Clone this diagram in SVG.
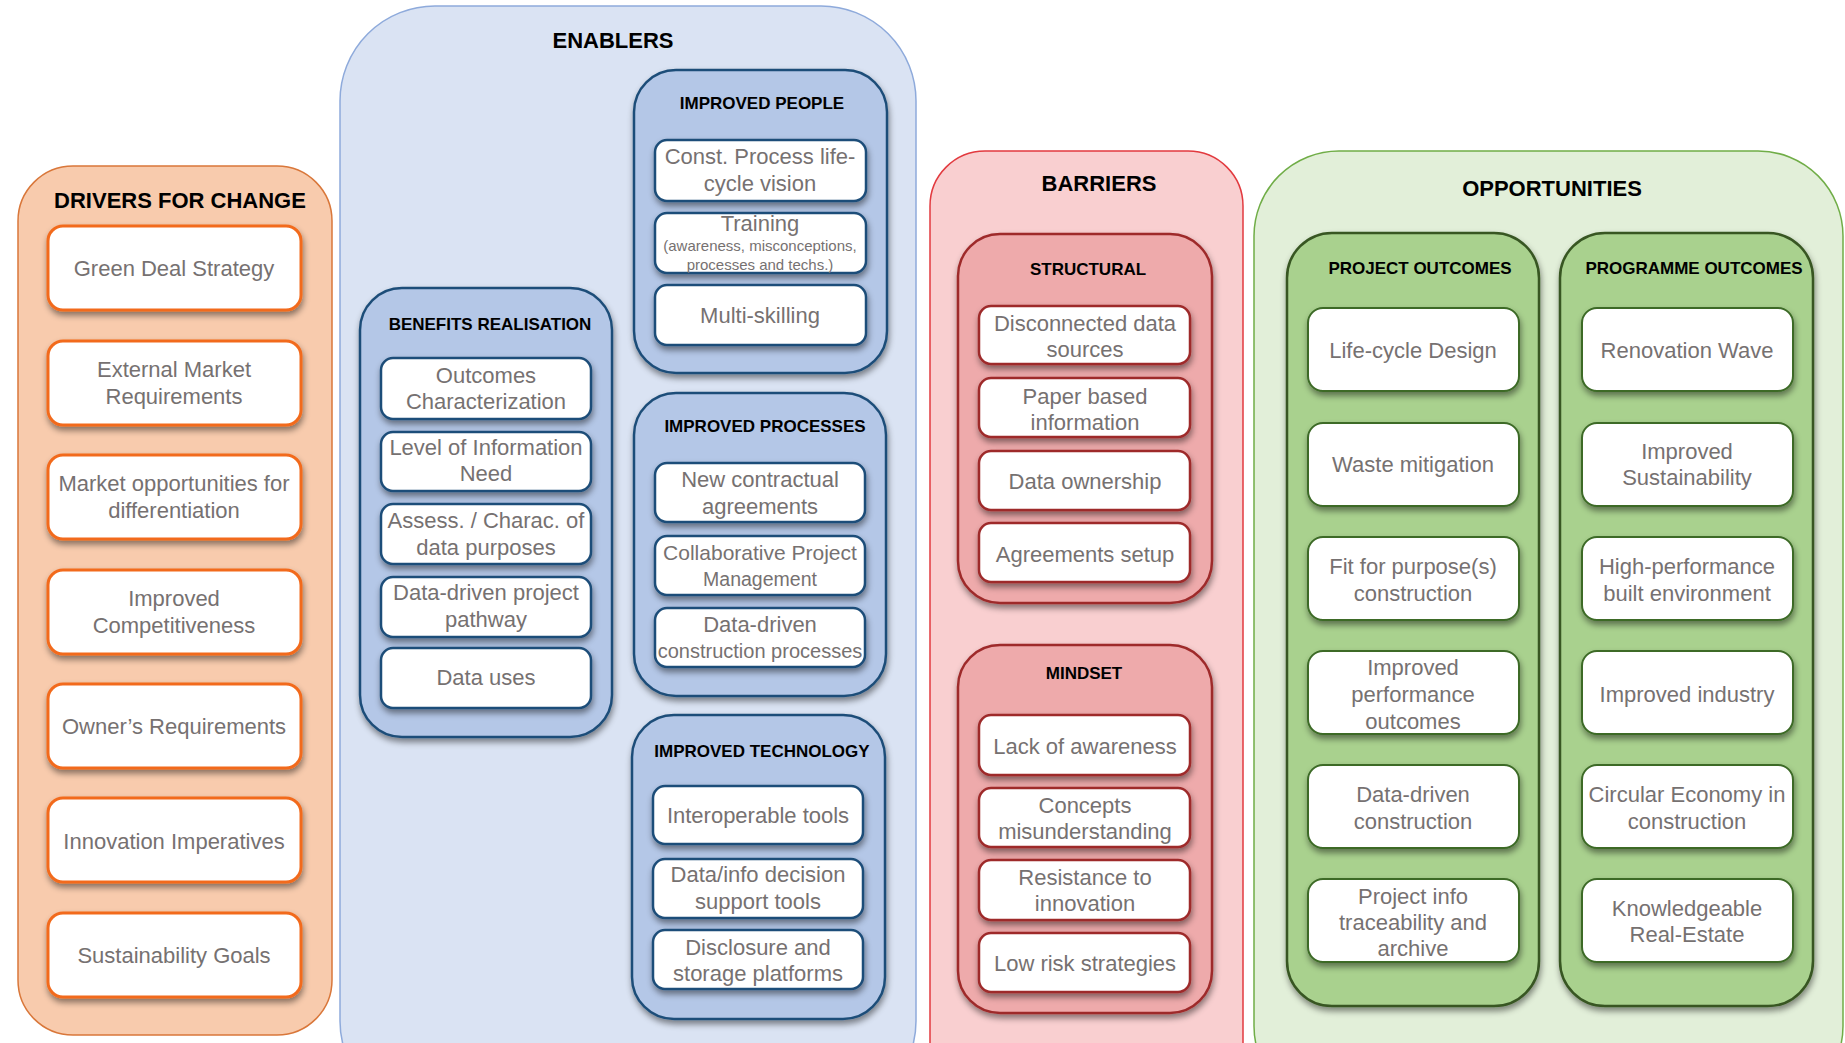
<svg xmlns="http://www.w3.org/2000/svg" width="1845" height="1043" viewBox="0 0 1845 1043">
<defs>
<filter id="sh" x="-10%" y="-10%" width="125%" height="135%">
<feDropShadow dx="1" dy="4" stdDeviation="3" flood-color="#000" flood-opacity="0.45"/>
</filter>
<style>
.t{font-family:"Liberation Sans",Arial,sans-serif;font-size:22px;fill:#767171;text-anchor:middle}
.s{font-size:20px}
.xs{font-size:15px}
.h{font-family:"Liberation Sans",Arial,sans-serif;font-weight:bold;fill:#000;text-anchor:middle}
.h1{font-size:22px}
.h2{font-size:17px}
.oD{fill:#f8cbad;stroke:#d9773a;stroke-width:1.5}
.oE{fill:#dae3f3;stroke:#8eaadb;stroke-width:1.5}
.oB{fill:#f9cfd0;stroke:#e23a3f;stroke-width:1.5}
.oO{fill:#e2efd9;stroke:#70ad47;stroke-width:1.5}
.gE{fill:#b4c7e7;stroke:#1f4e79;stroke-width:2.5;filter:url(#sh)}
.gB{fill:#eeaaab;stroke:#9e2a2b;stroke-width:2.5;filter:url(#sh)}
.gO{fill:#a9d18e;stroke:#375623;stroke-width:2.5;filter:url(#sh)}
.bD{fill:#fff;stroke:#f26b1d;stroke-width:3;filter:url(#sh)}
.bE{fill:#fff;stroke:#1f4e79;stroke-width:2.5;filter:url(#sh)}
.bB{fill:#fff;stroke:#9e2a2b;stroke-width:2.5;filter:url(#sh)}
.bO{fill:#fff;stroke:#3d6b28;stroke-width:2;filter:url(#sh)}
</style>
</defs>
<rect width="1845" height="1043" fill="#fff"/>

<!-- DRIVERS -->
<g id="drivers">
<rect class="oD" x="18" y="166" width="314" height="869" rx="55"/>
<text class="h h1" x="180" y="208">DRIVERS FOR CHANGE</text>
<g id="d1"><rect class="bD" x="48" y="226" width="253" height="84" rx="15"/><text class="t" x="174" y="276">Green Deal Strategy</text></g>
<g id="d2"><rect class="bD" x="48" y="341" width="253" height="84" rx="15"/><text class="t" x="174" y="377">External Market</text><text class="t" x="174" y="404">Requirements</text></g>
<g id="d3"><rect class="bD" x="48" y="455" width="253" height="84" rx="15"/><text class="t" x="174" y="491">Market opportunities for</text><text class="t" x="174" y="518">differentiation</text></g>
<g id="d4"><rect class="bD" x="48" y="570" width="253" height="84" rx="15"/><text class="t" x="174" y="606">Improved</text><text class="t" x="174" y="633">Competitiveness</text></g>
<g id="d5"><rect class="bD" x="48" y="684" width="253" height="84" rx="15"/><text class="t" x="174" y="734">Owner’s Requirements</text></g>
<g id="d6"><rect class="bD" x="48" y="798" width="253" height="84" rx="15"/><text class="t" x="174" y="849">Innovation Imperatives</text></g>
<g id="d7"><rect class="bD" x="48" y="913" width="253" height="84" rx="15"/><text class="t" x="174" y="963">Sustainability Goals</text></g>
</g>

<!-- ENABLERS -->
<g id="enablers">
<rect class="oE" x="340" y="6" width="576" height="1110" rx="95"/>
<text class="h h1" x="613" y="48">ENABLERS</text>
</g>
<g id="benefits">
<rect class="gE" x="360" y="288" width="252" height="449" rx="42"/>
<text class="h h2" x="490" y="330">BENEFITS REALISATION</text>
<g id="e1"><rect class="bE" x="381" y="358" width="210" height="61" rx="12"/><text class="t" x="486" y="383">Outcomes</text><text class="t" x="486" y="409">Characterization</text></g>
<g id="e2"><rect class="bE" x="381" y="432" width="210" height="59" rx="12"/><text class="t" x="486" y="455">Level of Information</text><text class="t" x="486" y="481">Need</text></g>
<g id="e3"><rect class="bE" x="381" y="504" width="210" height="60" rx="12"/><text class="t" x="486" y="528">Assess. / Charac. of</text><text class="t" x="486" y="555">data purposes</text></g>
<g id="e4"><rect class="bE" x="381" y="577" width="210" height="60" rx="12"/><text class="t" x="486" y="600">Data-driven project</text><text class="t" x="486" y="627">pathway</text></g>
<g id="e5"><rect class="bE" x="381" y="648" width="210" height="60" rx="12"/><text class="t" x="486" y="685">Data uses</text></g>
</g>
<g id="people">
<rect class="gE" x="634" y="70" width="253" height="303" rx="42"/>
<text class="h h2" x="762" y="109">IMPROVED PEOPLE</text>
<g id="p1"><rect class="bE" x="655" y="140" width="211" height="61" rx="12"/><text class="t" x="760" y="164">Const. Process life-</text><text class="t" x="760" y="191">cycle vision</text></g>
<g id="p2"><rect class="bE" x="655" y="213" width="211" height="60" rx="12"/><text class="t" x="760" y="231">Training</text><text class="t xs" x="760" y="251">(awareness, misconceptions,</text><text class="t xs" x="760" y="270">processes and techs.)</text></g>
<g id="p3"><rect class="bE" x="655" y="285" width="211" height="60" rx="12"/><text class="t" x="760" y="323">Multi-skilling</text></g>
</g>
<g id="processes">
<rect class="gE" x="634" y="393" width="252" height="303" rx="42"/>
<text class="h h2" x="765" y="432">IMPROVED PROCESSES</text>
<g id="r1"><rect class="bE" x="655" y="463" width="210" height="59" rx="12"/><text class="t" x="760" y="487">New contractual</text><text class="t" x="760" y="514">agreements</text></g>
<g id="r2"><rect class="bE" x="655" y="536" width="210" height="59" rx="12"/><text class="t" x="760" y="560" style="font-size:21px">Collaborative Project</text><text class="t" x="760" y="586" style="font-size:19.5px">Management</text></g>
<g id="r3"><rect class="bE" x="655" y="608" width="210" height="59" rx="12"/><text class="t" x="760" y="632">Data-driven</text><text class="t s" x="760" y="658">construction processes</text></g>
</g>
<g id="technology">
<rect class="gE" x="632" y="715" width="253" height="304" rx="42"/>
<text class="h h2" x="762" y="757">IMPROVED TECHNOLOGY</text>
<g id="k1"><rect class="bE" x="653" y="786" width="210" height="58" rx="12"/><text class="t" x="758" y="823">Interoperable tools</text></g>
<g id="k2"><rect class="bE" x="653" y="859" width="210" height="59" rx="12"/><text class="t" x="758" y="882">Data/info decision</text><text class="t" x="758" y="909">support tools</text></g>
<g id="k3"><rect class="bE" x="653" y="930" width="210" height="59" rx="12"/><text class="t" x="758" y="955">Disclosure and</text><text class="t" x="758" y="981">storage platforms</text></g>
</g>

<!-- BARRIERS -->
<g id="barriers">
<rect class="oB" x="930" y="151" width="313" height="960" rx="55"/>
<text class="h h1" x="1099" y="191">BARRIERS</text>
</g>
<g id="structural">
<rect class="gB" x="958" y="234" width="254" height="369" rx="42"/>
<text class="h h2" x="1088" y="275">STRUCTURAL</text>
<g id="s1"><rect class="bB" x="979" y="306" width="211" height="58" rx="12"/><text class="t" x="1085" y="331">Disconnected data</text><text class="t" x="1085" y="357">sources</text></g>
<g id="s2"><rect class="bB" x="979" y="378" width="211" height="59" rx="12"/><text class="t" x="1085" y="404">Paper based</text><text class="t" x="1085" y="430">information</text></g>
<g id="s3"><rect class="bB" x="979" y="451" width="211" height="59" rx="12"/><text class="t" x="1085" y="489">Data ownership</text></g>
<g id="s4"><rect class="bB" x="979" y="523" width="211" height="59" rx="12"/><text class="t" x="1085" y="562">Agreements setup</text></g>
</g>
<g id="mindset">
<rect class="gB" x="958" y="645" width="254" height="368" rx="42"/>
<text class="h h2" x="1084" y="679">MINDSET</text>
<g id="m1"><rect class="bB" x="979" y="715" width="211" height="60" rx="12"/><text class="t" x="1085" y="754">Lack of awareness</text></g>
<g id="m2"><rect class="bB" x="979" y="788" width="211" height="59" rx="12"/><text class="t" x="1085" y="813">Concepts</text><text class="t" x="1085" y="839">misunderstanding</text></g>
<g id="m3"><rect class="bB" x="979" y="860" width="211" height="60" rx="12"/><text class="t" x="1085" y="885">Resistance to</text><text class="t" x="1085" y="911">innovation</text></g>
<g id="m4"><rect class="bB" x="979" y="933" width="211" height="59" rx="12"/><text class="t" x="1085" y="971">Low risk strategies</text></g>
</g>

<!-- OPPORTUNITIES -->
<g id="opportunities">
<rect class="oO" x="1254" y="151" width="589" height="960" rx="85"/>
<text class="h h1" x="1552" y="196">OPPORTUNITIES</text>
</g>
<g id="project">
<rect class="gO" x="1287" y="233" width="252" height="773" rx="45"/>
<text class="h h2" x="1420" y="274">PROJECT OUTCOMES</text>
<g id="o1"><rect class="bO" x="1308" y="308" width="211" height="83" rx="15"/><text class="t" x="1413" y="358">Life-cycle Design</text></g>
<g id="o2"><rect class="bO" x="1308" y="423" width="211" height="83" rx="15"/><text class="t" x="1413" y="472">Waste mitigation</text></g>
<g id="o3"><rect class="bO" x="1308" y="537" width="211" height="83" rx="15"/><text class="t" x="1413" y="574">Fit for purpose(s)</text><text class="t" x="1413" y="601">construction</text></g>
<g id="o4"><rect class="bO" x="1308" y="651" width="211" height="83" rx="15"/><text class="t" x="1413" y="675">Improved</text><text class="t" x="1413" y="702">performance</text><text class="t" x="1413" y="729">outcomes</text></g>
<g id="o5"><rect class="bO" x="1308" y="765" width="211" height="83" rx="15"/><text class="t" x="1413" y="802">Data-driven</text><text class="t" x="1413" y="829">construction</text></g>
<g id="o6"><rect class="bO" x="1308" y="879" width="211" height="83" rx="15"/><text class="t" x="1413" y="904">Project info</text><text class="t" x="1413" y="930">traceability and</text><text class="t" x="1413" y="956">archive</text></g>
</g>
<g id="programme">
<rect class="gO" x="1560" y="233" width="253" height="773" rx="45"/>
<text class="h h2" x="1694" y="274">PROGRAMME OUTCOMES</text>
<g id="q1"><rect class="bO" x="1582" y="308" width="211" height="83" rx="15"/><text class="t" x="1687" y="358">Renovation Wave</text></g>
<g id="q2"><rect class="bO" x="1582" y="423" width="211" height="83" rx="15"/><text class="t" x="1687" y="459">Improved</text><text class="t" x="1687" y="485">Sustainability</text></g>
<g id="q3"><rect class="bO" x="1582" y="537" width="211" height="83" rx="15"/><text class="t" x="1687" y="574">High-performance</text><text class="t" x="1687" y="601">built environment</text></g>
<g id="q4"><rect class="bO" x="1582" y="651" width="211" height="83" rx="15"/><text class="t" x="1687" y="702">Improved industry</text></g>
<g id="q5"><rect class="bO" x="1582" y="765" width="211" height="83" rx="15"/><text class="t" x="1687" y="802">Circular Economy in</text><text class="t" x="1687" y="829">construction</text></g>
<g id="q6"><rect class="bO" x="1582" y="879" width="211" height="83" rx="15"/><text class="t" x="1687" y="916">Knowledgeable</text><text class="t" x="1687" y="942">Real-Estate</text></g>
</g>

<g id="connectors"></g>
</svg>
